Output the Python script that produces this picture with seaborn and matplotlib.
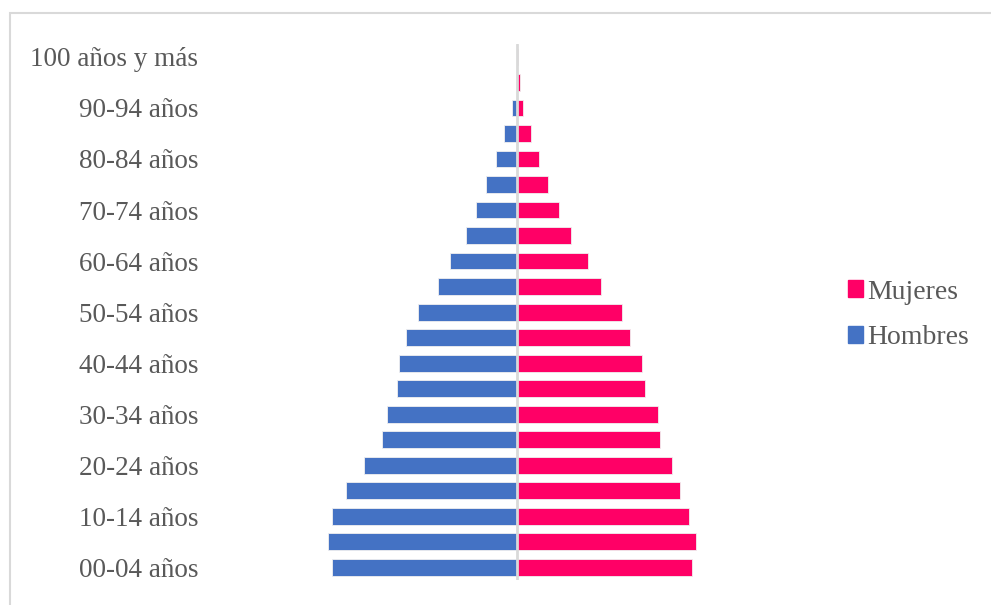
import pandas as pd
import seaborn as sns
import matplotlib.pyplot as plt
import matplotlib.patches as mpatches

# data (arbitrary units)
AGE_GROUPS = ['00-04 años', '05-09 años', '10-14 años', '15-19 años', '20-24 años',
              '25-29 años', '30-34 años', '35-39 años', '40-44 años', '45-49 años',
              '50-54 años', '55-59 años', '60-64 años', '65-69 años', '70-74 años',
              '75-79 años', '80-84 años', '85-89 años', '90-94 años', '95-99 años',
              '100 años y más']
HOMBRES = [185.5, 189, 185.5, 171, 153.5, 135, 130, 120.5, 118, 111,
           99, 79, 67, 51.5, 41, 31.5, 21, 13, 5, 0.8, 0.2]
MUJERES = [174.5, 178.5, 172, 162.5, 154.5, 142.5, 141, 128, 125, 113,
           105, 84, 70.5, 53.5, 41.5, 31, 21.5, 13.5, 5.5, 3, 0.6]

COLOR_H = '#4472C4'
COLOR_M = '#FF0066'
TEXT_COLOR = '#595959'


def main():
    sns.set_style('white')
    plt.rcParams['font.family'] = ['Liberation Serif', 'DejaVu Serif']

    order = AGE_GROUPS[::-1]
    df = pd.concat([
        pd.DataFrame({'edad': AGE_GROUPS, 'valor': MUJERES, 'sexo': 'Mujeres'}),
        pd.DataFrame({'edad': AGE_GROUPS, 'valor': [-v for v in HOMBRES], 'sexo': 'Hombres'}),
    ])

    fig = plt.figure(figsize=(9.91, 6.05), dpi=100)
    ax = fig.add_axes([0.217, 0.0413, 0.61, 0.8857])
    sns.barplot(data=df, x='valor', y='edad', hue='sexo', order=order,
                hue_order=['Mujeres', 'Hombres'],
                palette={'Mujeres': COLOR_M, 'Hombres': COLOR_H},
                dodge=False, width=0.66, orient='h', ax=ax, saturation=1,
                edgecolor='#f0f0f0', linewidth=0.6, legend=False)

    ax.set_xlim(-302, 302)
    ax.set_ylim(len(order) - 0.5, -0.5)
    ax.axvline(0, color='#d9d9d9', lw=2, zorder=5)
    ax.set_xticks([])
    ax.set_xlabel('')
    ax.set_ylabel('')
    labels = [lab if i % 2 == 0 else '' for i, lab in enumerate(order)]
    ax.set_yticks(range(len(order)))
    ax.set_yticklabels(labels, fontsize=19.5, color=TEXT_COLOR)
    ax.tick_params(axis='y', length=0, pad=12)
    sns.despine(ax=ax, left=True, bottom=True)

    handles = [mpatches.Patch(color=COLOR_M, label='Mujeres'),
               mpatches.Patch(color=COLOR_H, label='Hombres')]
    leg = fig.legend(handles=handles, loc='center left',
                     bbox_to_anchor=(834 / 991, 1 - 315 / 605), frameon=False,
                     fontsize=20, handlelength=0.55, handleheight=0.55,
                     handletextpad=0.15, labelspacing=0.75, borderpad=0)
    for t in leg.get_texts():
        t.set_color(TEXT_COLOR)

    # chart frame
    fig.patches.append(mpatches.Rectangle((10 / 991, -0.1), 1.2, 1.1 - 13 / 605,
                                          transform=fig.transFigure, fill=False,
                                          edgecolor='#d9d9d9', lw=1.5))

    fig.savefig('out.png', dpi=100)


if __name__ == '__main__':
    main()
